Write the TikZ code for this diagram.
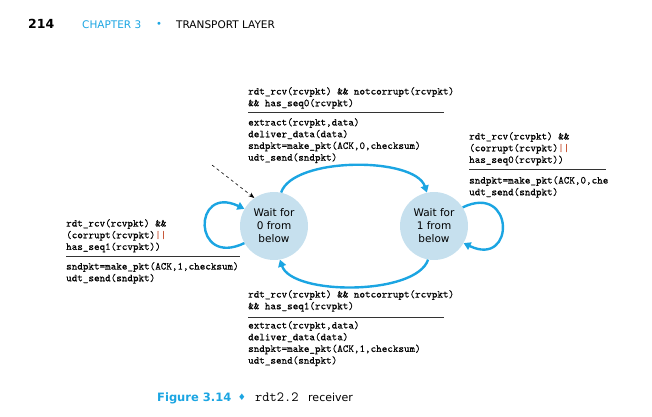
\documentclass[tikz,border=0pt]{standalone}
\usepackage{amsmath}
\usepackage{fontspec}
\usepackage{tikz}
\usetikzlibrary{arrows.meta}
\setsansfont{DejaVu Sans}
\newfontfamily\guardfont{Latin Modern Mono}[FakeBold=0.4]
\definecolor{fsmblue}{HTML}{1BA5E2}
\definecolor{statefill}{HTML}{C6E0EE}
\definecolor{orbar}{HTML}{C8583A}
\newcommand{\orbar}{\textcolor{orbar}{||}}
\begin{document}
\begin{tikzpicture}[x = 1pt, y = 1pt,
	state/.style = {circle, fill = statefill, minimum size = 68pt, inner sep = 0pt, align = center, font = \sffamily\fontsize{10.5}{13}\selectfont},
	trans/.style = {draw = fsmblue, line width = 2.4pt, -{Triangle[length = 7pt, width = 8pt]}},
	guard/.style = {anchor = north west, inner sep = 0pt, align = left, font = \guardfont\fontsize{10.6}{11.7}\selectfont},
	bar/.style = {line width = 0.8pt, draw = black!80},
	head/.style = {anchor = base west, inner sep = 0pt, font = \sffamily\fontsize{10.5}{13}\selectfont}]
	\useasboundingbox (0,0) rectangle (652,416);
	\node[head, font = \sffamily\bfseries\fontsize{12.5}{14}\selectfont] (pagenum) at (28,387) {214};
	\node[head, text = fsmblue] (chap) at (82,387) {CHAPTER 3};
	\node[text = fsmblue, inner sep = 0pt, font = \sffamily\fontsize{10}{12}\selectfont] (dot) at (159,391) {•};
	\node[head] (title) at (176,387) {TRANSPORT LAYER};
	\node[state] (w0) at (274,190) {Wait for\\0 from\\below};
	\node[state] (w1) at (434,190) {Wait for\\1 from\\below};
	\coordinate (init) at (212,251);
	\draw[dashed, line width = 0.6pt, -{Stealth[length = 6pt]}] (init) -- (w0.125);
	\draw[trans] (w0.78) .. controls +(12,36) and +(-12,36) .. (w1.102);
	\draw[trans] (w1.-100) .. controls +(-12,-36) and +(12,-36) .. (w0.-80);
	\draw[trans] (w0.210) .. controls +(-52,-25) and +(-52,25) .. (w0.150);
	\draw[trans] (w1.33) .. controls +(52,25) and +(52,-25) .. (w1.-30);
	\node[guard] (topG) at (248,329) {rdt\_rcv(rcvpkt) \&\& notcorrupt(rcvpkt)\\\&\& has\_seq0(rcvpkt)};
	\draw[bar] (248,304) -- (444,304);
	\node[guard] (topA) at (248,298) {extract(rcvpkt,data)\\deliver\_data(data)\\sndpkt=make\_pkt(ACK,0,checksum)\\udt\_send(sndpkt)};
	\node[guard] (rightG) at (469,284) {rdt\_rcv(rcvpkt) \&\&\\(corrupt(rcvpkt)\orbar\\has\_seq0(rcvpkt))};
	\draw[bar] (469,247) -- (606,247);
	\node[guard] (rightA) at (469,240) {sndpkt=make\_pkt(ACK,0,che\\udt\_send(sndpkt)};
	\node[guard] (leftG) at (66,197) {rdt\_rcv(rcvpkt) \&\&\\(corrupt(rcvpkt)\orbar\\has\_seq1(rcvpkt))};
	\draw[bar] (66,160) -- (240,160);
	\node[guard] (leftA) at (66,154) {sndpkt=make\_pkt(ACK,1,checksum)\\udt\_send(sndpkt)};
	\node[guard] (botG) at (248,126) {rdt\_rcv(rcvpkt) \&\& notcorrupt(rcvpkt)\\\&\& has\_seq1(rcvpkt)};
	\draw[bar] (248,99) -- (444,99);
	\node[guard] (botA) at (248,95) {extract(rcvpkt,data)\\deliver\_data(data)\\sndpkt=make\_pkt(ACK,1,checksum)\\udt\_send(sndpkt)};
	\node[head, text = fsmblue, font = \sffamily\bfseries\fontsize{11.5}{14}\selectfont] (fig) at (157,15) {Figure 3.14};
	\node[text = fsmblue, inner sep = 0pt, font = \sffamily\fontsize{9}{11}\selectfont] (sep) at (242,19) {♦};
	\node[head, font = \ttfamily\fontsize{14}{16}\selectfont] (prog) at (255,15) {rdt2.2};
	\node[head, font = \sffamily\fontsize{11}{13}\selectfont] (recv) at (308,15) {receiver};
\end{tikzpicture}
\end{document}
